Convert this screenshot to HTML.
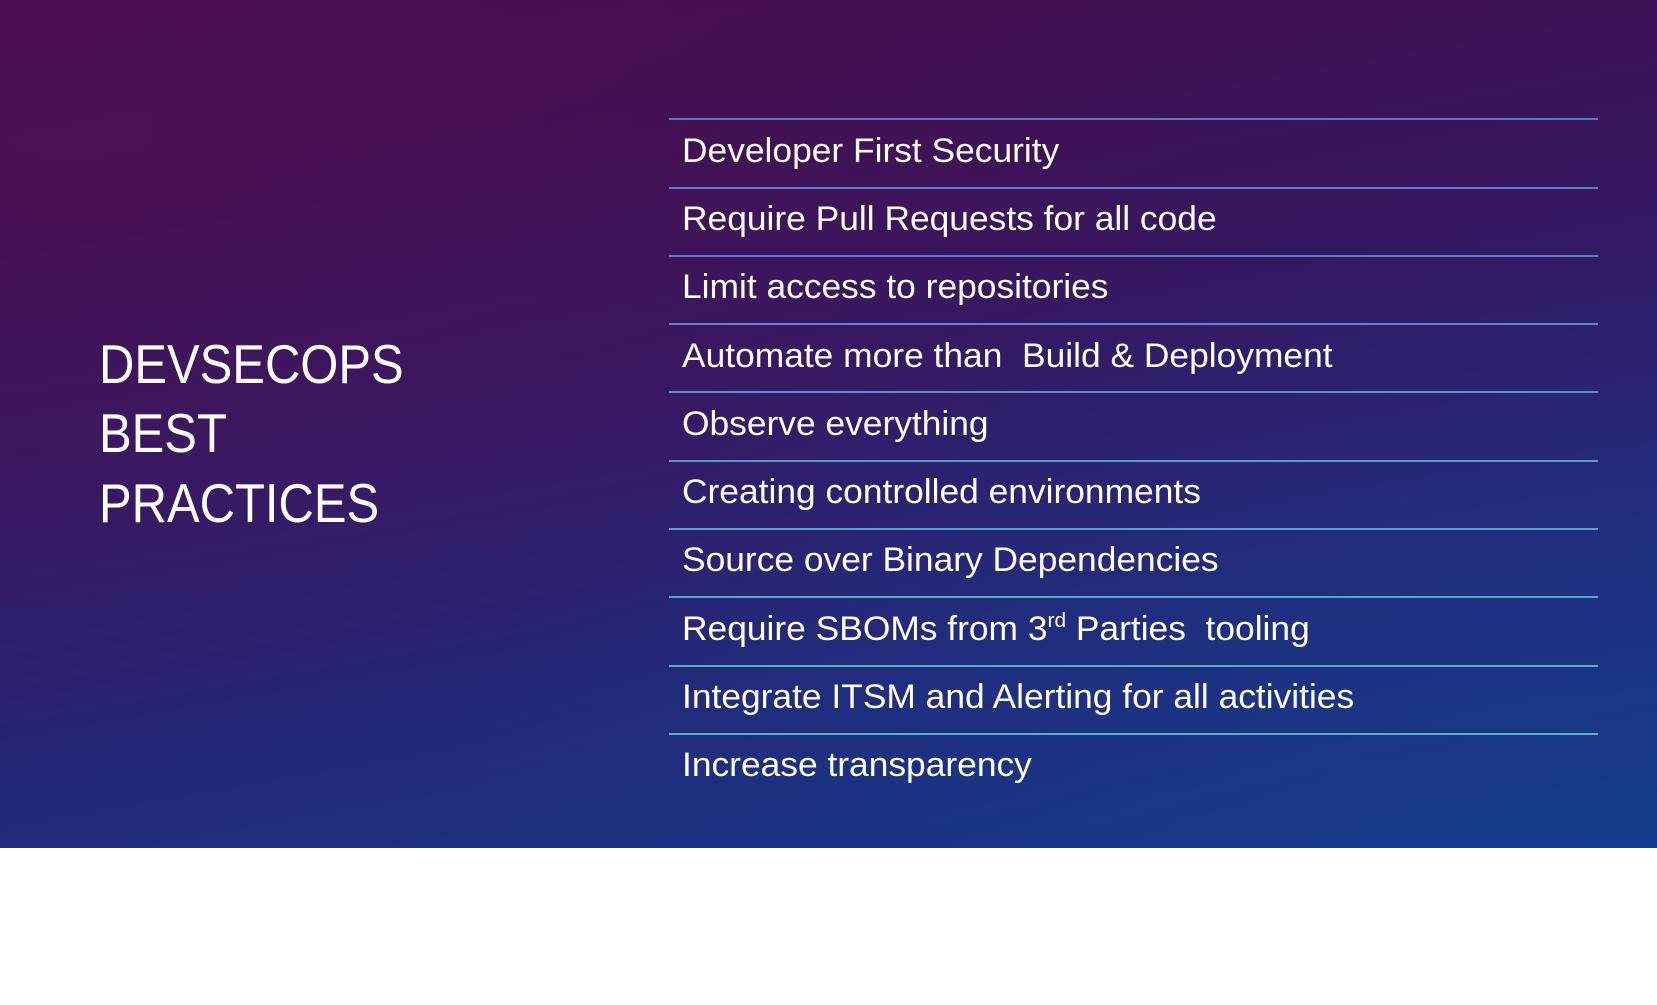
<!DOCTYPE html>
<html><head><meta charset="utf-8"><style>
html,body{margin:0;padding:0;background:#fff;}
body{width:1657px;height:1005px;position:relative;overflow:hidden;}
.slide{position:absolute;left:0;top:0;width:1657px;height:848px;
background:linear-gradient(170deg,#470d4c 0%,#3f1052 22%,#331a66 48%,#23297a 72%,#153887 100%);overflow:hidden;}
.glow{position:absolute;left:0;top:0;width:100%;height:100%;
background:radial-gradient(ellipse at 5% 15%,rgba(90,20,90,0.35),transparent 50%),radial-gradient(ellipse at 95% 95%,rgba(20,70,150,0.3),transparent 50%);}
.title{position:absolute;left:99px;color:#fff;font-family:"Liberation Sans",sans-serif;font-size:55px;line-height:1;transform-origin:left top;transform:scaleX(0.89);}
.line{position:absolute;left:669px;width:929px;height:2px;}
.item{position:absolute;left:682px;color:#fff;font-family:"Liberation Sans",sans-serif;font-size:34px;line-height:1;white-space:nowrap;transform-origin:left top;transform:scaleX(1.04);}
sup{font-size:20px;vertical-align:0;position:relative;top:-13px;}
</style></head><body>
<div class="slide"><div class="glow"></div>
<div class="title" style="top:337px">DEVSECOPS</div>
<div class="title" style="top:406px">BEST</div>
<div class="title" style="top:476px">PRACTICES</div>

<div class="line" style="top:118px;background:#5a78c8"></div>
<div class="line" style="top:187px;background:#5a7ccc"></div>
<div class="line" style="top:255px;background:#5a80cc"></div>
<div class="line" style="top:323px;background:#5a88cc"></div>
<div class="line" style="top:391px;background:#5a90cc"></div>
<div class="line" style="top:460px;background:#5a98cc"></div>
<div class="line" style="top:528px;background:#5aa0cc"></div>
<div class="line" style="top:596px;background:#58a8c8"></div>
<div class="line" style="top:665px;background:#56b0c4"></div>
<div class="line" style="top:733px;background:#56b4c0"></div>

<div class="item" style="top:134px">Developer First Security</div>
<div class="item" style="top:202px">Require Pull Requests for all code</div>
<div class="item" style="top:270px">Limit access to repositories</div>
<div class="item" style="top:339px">Automate more than&nbsp; Build &amp; Deployment</div>
<div class="item" style="top:407px">Observe everything</div>
<div class="item" style="top:475px">Creating controlled environments</div>
<div class="item" style="top:543px">Source over Binary Dependencies</div>
<div class="item" style="top:612px">Require SBOMs from 3<sup>rd</sup> Parties&nbsp; tooling</div>
<div class="item" style="top:680px">Integrate ITSM and Alerting for all activities</div>
<div class="item" style="top:748px">Increase transparency</div>
</div>
</body></html>
